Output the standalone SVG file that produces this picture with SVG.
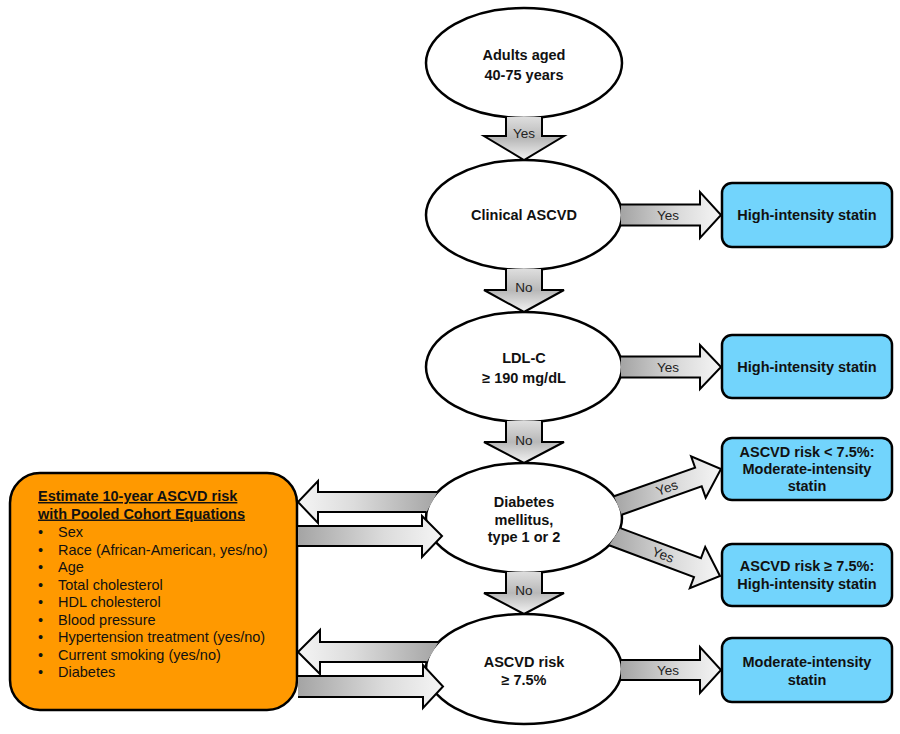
<svg xmlns="http://www.w3.org/2000/svg" width="900" height="734" viewBox="0 0 900 734">
<defs>
<linearGradient id="gR" x1="0" y1="0" x2="1" y2="0"><stop offset="0" stop-color="#a4a4a4"/><stop offset="0.6" stop-color="#dcdcdc"/><stop offset="1" stop-color="#f5f5f5"/></linearGradient>
<linearGradient id="gL" x1="1" y1="0" x2="0" y2="0"><stop offset="0" stop-color="#a4a4a4"/><stop offset="0.6" stop-color="#dcdcdc"/><stop offset="1" stop-color="#f5f5f5"/></linearGradient>
<linearGradient id="gD" x1="0" y1="0" x2="0" y2="1"><stop offset="0" stop-color="#dedede"/><stop offset="0.5" stop-color="#b8b8b8"/><stop offset="1" stop-color="#f3f3f3"/></linearGradient>
<style>
.ell{fill:#fff;stroke:#000;stroke-width:2.5}
.blue{fill:#72d4fc;stroke:#000;stroke-width:2.5}
.orange{fill:#ff9900;stroke:#000;stroke-width:2.5}
.t{font-family:"Liberation Sans",Arial,sans-serif;font-size:14.5px;font-weight:bold;fill:#111;text-anchor:middle}
.lbl{font-family:"Liberation Sans",Arial,sans-serif;font-size:13.5px;fill:#222;text-anchor:middle}
.ot{font-family:"Liberation Sans",Arial,sans-serif;font-size:14.5px;fill:#111}
.oh{font-family:"Liberation Sans",Arial,sans-serif;font-size:14.5px;font-weight:bold;fill:#111;text-decoration:underline}
.ar{stroke:#000;stroke-width:2;stroke-linejoin:miter}
.r{fill:url(#gR)}.l{fill:url(#gL)}.d{fill:url(#gD)}
</style>
</defs>

<g id="adults"><ellipse class="ell" cx="524" cy="63" rx="98" ry="55"/><text class="t" x="524" y="60">Adults aged</text><text class="t" x="524" y="80">40-75 years</text></g>
<g id="clinical"><ellipse class="ell" cx="524" cy="215" rx="98" ry="55"/><text class="t" x="524" y="220">Clinical ASCVD</text></g>
<g id="ldl"><ellipse class="ell" cx="524" cy="367" rx="98" ry="55"/><text class="t" x="524" y="363">LDL-C</text><text class="t" x="524" y="383">≥ 190 mg/dL</text></g>
<g id="diabetes"><ellipse class="ell" cx="524" cy="518" rx="98" ry="55"/><text class="t" x="524" y="507">Diabetes</text><text class="t" x="524" y="525">mellitus,</text><text class="t" x="524" y="542">type 1 or 2</text></g>
<g id="risk"><ellipse class="ell" cx="524" cy="669" rx="98" ry="55"/><text class="t" x="524" y="667">ASCVD risk</text><text class="t" x="524" y="685">≥ 7.5%</text></g>

<g id="high1"><rect class="blue" x="722" y="183" width="170" height="64" rx="10"/><text class="t" x="807" y="220">High-intensity statin</text></g>
<g id="high2"><rect class="blue" x="722" y="335" width="170" height="63" rx="10"/><text class="t" x="807" y="372">High-intensity statin</text></g>
<g id="moderate-lt"><rect class="blue" x="722" y="438" width="170" height="62" rx="10"/><text class="t" x="807" y="457">ASCVD risk &lt; 7.5%:</text><text class="t" x="807" y="474">Moderate-intensity</text><text class="t" x="807" y="491">statin</text></g>
<g id="high-ge"><rect class="blue" x="722" y="544" width="170" height="62" rx="10"/><text class="t" x="807" y="571">ASCVD risk ≥ 7.5%:</text><text class="t" x="807" y="589">High-intensity statin</text></g>
<g id="moderate"><rect class="blue" x="722" y="638" width="170" height="64" rx="10"/><text class="t" x="807" y="667">Moderate-intensity</text><text class="t" x="807" y="685">statin</text></g>

<g id="pce">
<rect class="orange" x="10" y="473" width="287" height="237" rx="30"/>
<text class="oh" x="38" y="501">Estimate 10-year ASCVD risk</text>
<text class="oh" x="38" y="518.5">with Pooled Cohort Equations</text>
<g class="ot">
<text x="38" y="537">•</text><text x="58" y="537">Sex</text>
<text x="38" y="554.5">•</text><text x="58" y="554.5">Race (African-American, yes/no)</text>
<text x="38" y="572">•</text><text x="58" y="572">Age</text>
<text x="38" y="589.5">•</text><text x="58" y="589.5">Total cholesterol</text>
<text x="38" y="607">•</text><text x="58" y="607">HDL cholesterol</text>
<text x="38" y="624.5">•</text><text x="58" y="624.5">Blood pressure</text>
<text x="38" y="642">•</text><text x="58" y="642">Hypertension treatment (yes/no)</text>
<text x="38" y="659.5">•</text><text x="58" y="659.5">Current smoking (yes/no)</text>
<text x="38" y="677">•</text><text x="58" y="677">Diabetes</text>
</g>
</g>

<g id="connectors">
<path class="ar d" d="M506,117 L506,136 L484,136 L524,160 L564,136 L542,136 L542,117"/>
<text class="lbl" x="524" y="138">Yes</text>
<path class="ar d" d="M506,269 L506,290 L484,290 L524,312 L564,290 L542,290 L542,269"/>
<text class="lbl" x="524" y="292">No</text>
<path class="ar d" d="M506,421 L506,442 L484,442 L524,463 L564,442 L542,442 L542,421"/>
<text class="lbl" x="524" y="445">No</text>
<path class="ar d" d="M506,572 L506,593 L484,593 L524,614 L564,593 L542,593 L542,572"/>
<text class="lbl" x="524" y="595">No</text>

<path class="ar r" d="M621,204.5 L700,204.5 L700,192 L721,215 L700,238 L700,225.5 L621,225.5"/>
<text class="lbl" x="668" y="220">Yes</text>
<path class="ar r" d="M621,356.5 L700,356.5 L700,345 L721,367 L700,389 L700,377.5 L621,377.5"/>
<text class="lbl" x="668" y="372">Yes</text>
<path class="ar r" d="M621,660 L700,660 L700,647 L721,670 L700,693 L700,680 L621,680"/>
<text class="lbl" x="668" y="675">Yes</text>

<path class="ar r" d="M621.8,514.7 L701.7,486.4 L705.7,497.7 L721,469 L691.1,456.3 L695.1,467.6 L614,496.3"/>
<text class="lbl" transform="translate(667,488) rotate(-19.5)" x="0" y="4.5">Yes</text>
<path class="ar r" d="M620.4,528.1 L701,558.2 L705.2,547 L720,576 L689.8,588.2 L694,577 L609.1,545.3"/>
<text class="lbl" transform="translate(663,555) rotate(20.5)" x="0" y="4.5">Yes</text>

<path class="ar l" d="M437.6,492 L318,492 L318,481 L298,502 L318,523 L318,512 L426.6,512"/>
<path class="ar r" d="M298,526 L422,526 L422,516 L442,536 L422,557 L422,546 L298,546"/>
<path class="ar l" d="M438.6,642 L320,642 L320,630 L298,652 L320,674 L320,662 L426.8,662"/>
<path class="ar r" d="M298,676 L423,676 L423,665 L443,686.5 L423,708 L423,697 L298,697"/>
</g>
</svg>
